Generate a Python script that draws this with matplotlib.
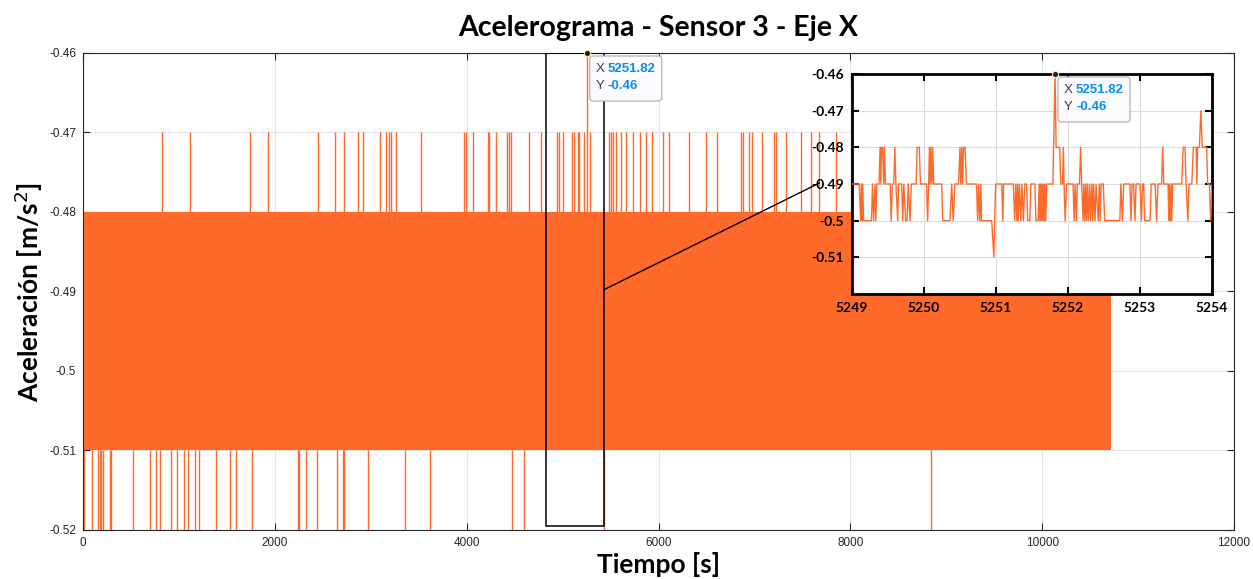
import matplotlib
matplotlib.use('Agg')
import matplotlib.pyplot as plt
import matplotlib.transforms as mtransforms
from matplotlib.patches import Rectangle, ConnectionPatch, FancyBboxPatch
import numpy as np

ORANGE = '#ff6a2b'
plt.rcParams['font.family'] = ['Liberation Sans', 'DejaVu Sans']

# banda principal: la señal oscila sin parar entre estos niveles
band_t = [0, 10718]
band_low = [-0.51, -0.51]
band_high = [-0.48, -0.48]

# picos aislados que llegan a -0.47 (arriba) y -0.52 (abajo)
spikes_up_t = [827, 1119, 1744, 1924, 2452, 2625, 2726, 2869, 2921, 3098, 3160, 3195,
               3215, 3265, 3528, 3976, 3994, 4070, 4219, 4236, 4306, 4421, 4438, 4463,
               4653, 4775, 4938, 4958, 5000, 5098, 5122, 5156, 5174, 5219, 5285, 5486,
               5507, 5528, 5556, 5608, 5660, 5736, 5806, 5869, 5931, 6042, 6111, 6313,
               6494, 6615, 6858, 6882, 6945, 6979, 7083, 7205, 7223, 7327, 7483, 7588,
               7674, 7848]
spike_up_level = -0.47
spikes_down_t = [7, 98, 156, 174, 192, 208, 278, 296, 521, 702, 765, 799, 921, 979,
                 1049, 1094, 1164, 1208, 1382, 1528, 1598, 1765, 2240, 2257, 2327, 2442,
                 2650, 2708, 2726, 2973, 3361, 3619, 4473, 4594, 5427, 8838]
spike_down_level = -0.52

# maximo marcado con el datatip
peak_t = 5251.82
peak_v = -0.46

# zoom 5249 - 5254 s
inset_t0 = 5249
inset_dt = [0.00, 0.10, 0.12, 0.13, 0.14, 0.15, 0.16, 0.27, 0.285, 0.30, 0.32, 0.33,
            0.345, 0.375, 0.39, 0.40, 0.41, 0.425, 0.44, 0.45, 0.465, 0.53, 0.545, 0.56,
            0.58, 0.595, 0.61, 0.635, 0.645, 0.69, 0.705, 0.72, 0.745, 0.765, 0.78, 0.805,
            0.825, 0.89, 0.905, 0.935, 0.95, 1.035, 1.05, 1.065, 1.075, 1.085, 1.095, 1.11,
            1.12, 1.135, 1.245, 1.26, 1.36, 1.385, 1.405, 1.43, 1.48, 1.50, 1.51, 1.525,
            1.535, 1.55, 1.57, 1.59, 1.73, 1.745, 1.76, 1.775, 1.79, 1.80, 1.94, 1.97,
            1.995, 2.08, 2.095, 2.105, 2.24, 2.26, 2.275, 2.29, 2.30, 2.31, 2.325, 2.345,
            2.36, 2.38, 2.40, 2.425, 2.44, 2.47, 2.485, 2.54, 2.555, 2.585, 2.60, 2.61,
            2.62, 2.63, 2.64, 2.65, 2.66, 2.67, 2.68, 2.69, 2.705, 2.79, 2.82, 2.835,
            2.885, 2.90, 2.925, 2.935, 2.945, 2.96, 2.98, 3.07, 3.085, 3.10, 3.115, 3.13,
            3.16, 3.175, 3.19, 3.21, 3.22, 3.235, 3.245, 3.26, 3.27, 3.285, 3.30, 3.315,
            3.33, 3.345, 3.355, 3.375, 3.39, 3.42, 3.435, 3.445, 3.46, 3.49, 3.51, 3.72,
            3.735, 3.755, 3.775, 3.86, 3.875, 3.89, 3.91, 3.93, 3.945, 4.00, 4.02, 4.035,
            4.05, 4.065, 4.14, 4.155, 4.21, 4.23, 4.25, 4.30, 4.315, 4.33, 4.39, 4.40,
            4.41, 4.42, 4.435, 4.44, 4.455, 4.58, 4.60, 4.625, 4.64, 4.665, 4.68, 4.72,
            4.74, 4.78, 4.79, 4.80, 4.825, 4.845, 4.865, 4.925, 4.94, 4.965, 4.98, 5.00]
inset_v = [-0.49, -0.49, -0.50, -0.49, -0.50, -0.49, -0.50, -0.50, -0.49, -0.50, -0.49, -0.50,
           -0.49, -0.49, -0.48, -0.49, -0.48, -0.48, -0.49, -0.48, -0.49, -0.49, -0.50, -0.49,
           -0.49, -0.48, -0.49, -0.50, -0.49, -0.49, -0.50, -0.49, -0.50, -0.50, -0.49, -0.50,
           -0.49, -0.49, -0.48, -0.48, -0.49, -0.49, -0.50, -0.49, -0.48, -0.49, -0.48, -0.49,
           -0.48, -0.49, -0.49, -0.50, -0.50, -0.49, -0.50, -0.49, -0.49, -0.48, -0.49, -0.48,
           -0.49, -0.48, -0.48, -0.49, -0.49, -0.50, -0.49, -0.50, -0.49, -0.50, -0.50, -0.51,
           -0.49, -0.49, -0.50, -0.49, -0.49, -0.50, -0.49, -0.50, -0.49, -0.50, -0.49, -0.50,
           -0.49, -0.50, -0.49, -0.49, -0.50, -0.50, -0.49, -0.49, -0.50, -0.50, -0.49, -0.50,
           -0.49, -0.50, -0.49, -0.50, -0.49, -0.50, -0.49, -0.50, -0.49, -0.49, -0.46, -0.48,
           -0.48, -0.49, -0.49, -0.48, -0.49, -0.50, -0.49, -0.49, -0.50, -0.49, -0.50, -0.49,
           -0.49, -0.48, -0.49, -0.50, -0.49, -0.50, -0.49, -0.50, -0.49, -0.50, -0.49, -0.50,
           -0.49, -0.50, -0.49, -0.50, -0.49, -0.50, -0.49, -0.50, -0.49, -0.49, -0.50, -0.50,
           -0.49, -0.50, -0.49, -0.49, -0.50, -0.49, -0.49, -0.50, -0.49, -0.49, -0.50, -0.49,
           -0.49, -0.50, -0.50, -0.49, -0.49, -0.50, -0.49, -0.49, -0.48, -0.49, -0.49, -0.50,
           -0.49, -0.50, -0.49, -0.50, -0.49, -0.49, -0.48, -0.48, -0.49, -0.50, -0.49, -0.49,
           -0.48, -0.48, -0.49, -0.48, -0.48, -0.47, -0.48, -0.48, -0.49, -0.49, -0.50, -0.49]

xticks_main = [0, 2000, 4000, 6000, 8000, 10000, 12000]
yticks = [-0.52, -0.51, -0.5, -0.49, -0.48, -0.47, -0.46]
ytick_labels = ['-0.52', '-0.51', '-0.5', '-0.49', '-0.48', '-0.47', '-0.46']
xticks_inset = [5249, 5250, 5251, 5252, 5253, 5254]

# caja del zoom dibujada sobre el grafico principal
zoom_box_t = [4826, 5427]
zoom_box_v = [-0.5195, -0.46]

W, H = 1253, 579
fig = plt.figure(figsize=(W / 100, H / 100), dpi=100)
ax = fig.add_axes([83 / W, 1 - 530 / H, (1234 - 83) / W, (530 - 53) / H])

ax.fill_between(band_t, band_low, band_high, color=ORANGE, lw=0, zorder=2)
ax.vlines(spikes_up_t, band_high[0], spike_up_level, color=ORANGE, lw=1.0, zorder=2)
ax.vlines(spikes_down_t, band_low[0], spike_down_level, color=ORANGE, lw=1.0, zorder=2)
ax.vlines([peak_t], band_high[0], peak_v, color=ORANGE, lw=1.0, zorder=2)

ax.set_xlim(0, 12000)
ax.set_ylim(-0.52, -0.46)
ax.set_xticks(xticks_main)
ax.set_xticklabels([str(v) for v in xticks_main])
ax.set_yticks(yticks)
ax.set_yticklabels(ytick_labels)
ax.tick_params(direction='in', length=5, width=0.8, labelsize=8.5, colors='#262626',
               top=True, right=True, pad=5)
ax.grid(True, color='#e3e3e3', lw=0.8, zorder=0)
ax.set_axisbelow(True)
for s in ax.spines.values():
    s.set_color('#262626')
    s.set_linewidth(0.8)

ax.set_title('Acelerograma - Sensor 3 - Eje X', fontsize=20.5, fontweight='bold',
             family=['Lato', 'DejaVu Sans'], pad=12)
ax.set_xlabel('Tiempo [s]', fontsize=19, fontweight='bold', family=['Lato', 'DejaVu Sans'],
              labelpad=2)
ax.set_ylabel('Aceleración [m/s$^2$]', fontsize=19, fontweight='bold',
              family=['Lato', 'DejaVu Sans'], labelpad=3)

ax.add_patch(Rectangle((zoom_box_t[0], zoom_box_v[0]), zoom_box_t[1] - zoom_box_t[0],
                       zoom_box_v[1] - zoom_box_v[0], fill=False, ec='black', lw=1.1, zorder=4))

# eje del zoom
axi = fig.add_axes([852 / W, 1 - 294 / H, (1212 - 852) / W, (294 - 74) / H])
axi.set_facecolor('white')
axi.plot(np.array(inset_dt) + inset_t0, inset_v, color=ORANGE, lw=1.0, zorder=3)
axi.set_xlim(xticks_inset[0], xticks_inset[-1])
axi.set_ylim(-0.52, -0.46)
axi.set_xticks(xticks_inset)
axi.set_xticklabels([str(v) for v in xticks_inset])
axi.set_yticks(yticks[1:])
axi.set_yticklabels(ytick_labels[1:])
axi.tick_params(direction='in', length=5, width=1.5, labelsize=10, top=True, right=True,
                pad=6)
for lab in axi.get_xticklabels() + axi.get_yticklabels():
    lab.set_fontweight('bold')
    lab.set_family(['Lato', 'DejaVu Sans'])
axi.grid(True, color='#dcdcdc', lw=0.8)
for s in axi.spines.values():
    s.set_linewidth(2)
    s.set_color('black')

con = ConnectionPatch(xyA=(zoom_box_t[1], -0.4898), coordsA=ax.transData,
                      xyB=(-0.09, 0.505), coordsB=axi.transAxes, color='black', lw=1.0)
fig.add_artist(con)


def datatip(a, x, y):
    a.plot([x], [y], 'o', ms=4.5, mfc='#222222', mec='#f0f0b0', mew=0.8,
           zorder=8, clip_on=False)
    # caja en pulgadas, anclada al punto
    anchor = fig.dpi_scale_trans + mtransforms.ScaledTranslation(x, y, a.transData)
    box = FancyBboxPatch((0.03, -0.48), 0.72, 0.45, boxstyle='round,pad=0,rounding_size=0.03',
                         fc='#fbfbff', ec='#b4b4b4', lw=0.9, transform=anchor,
                         zorder=7, clip_on=False)
    a.add_artist(box)
    for dy, key, val in [(-10, 'X', f'{x:.2f}'), (-27, 'Y', f'{y:.2f}')]:
        a.annotate(key, (x, y), xytext=(9, dy), textcoords='offset pixels', fontsize=9.5,
                   color='#404040', va='top', ha='left', annotation_clip=False, zorder=9)
        a.annotate(val, (x, y), xytext=(21, dy), textcoords='offset pixels', fontsize=9.5,
                   color='#0a8cf0', fontweight='bold', va='top', ha='left',
                   annotation_clip=False, zorder=9)


datatip(ax, peak_t, peak_v)
datatip(axi, peak_t, peak_v)

fig.savefig('out.png', dpi=100)
